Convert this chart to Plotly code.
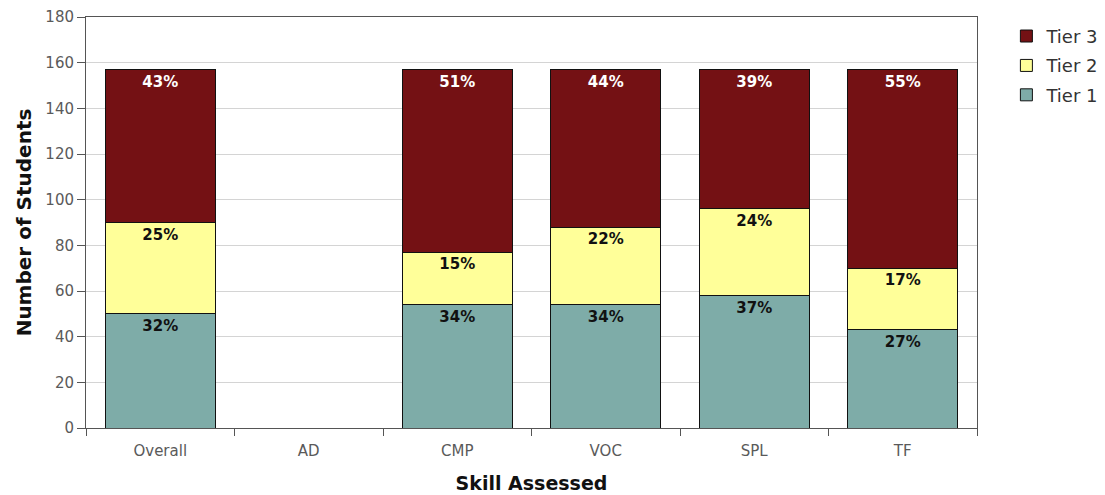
import plotly.graph_objects as go

categories = ["Overall", "AD", "CMP", "VOC", "SPL", "TF"]
tier1 = [50, None, 54, 54, 58, 43]
tier2 = [40, None, 23, 34, 38, 27]
tier3 = [67, None, 80, 69, 61, 87]
tier1_labels = ["32%", "", "34%", "34%", "37%", "27%"]
tier2_labels = ["25%", "", "15%", "22%", "24%", "17%"]
tier3_labels = ["43%", "", "51%", "44%", "39%", "55%"]
y_ticks = [0, 20, 40, 60, 80, 100, 120, 140, 160, 180]

FONT = "DejaVu Sans, Verdana, sans-serif"

fig = go.Figure()
series = [
    ("Tier 1", tier1, tier1_labels, "#7eaca8", "#111111", 3),
    ("Tier 2", tier2, tier2_labels, "#ffff99", "#111111", 2),
    ("Tier 3", tier3, tier3_labels, "#741114", "#ffffff", 1),
]
for name, vals, labels, color, tcolor, rank in series:
    fig.add_trace(go.Bar(
        name=name, x=categories, y=vals, text=labels, legendgroup=name,
        legendrank=rank,
        textposition="inside", insidetextanchor="end", textangle=0,
        constraintext="none",
        textfont=dict(family=FONT, size=15, color=tcolor, weight="bold"),
        marker=dict(color=color, line=dict(color="#111111", width=1)),
        hoverinfo="x+y+name",
    ))

# page body has an 8px default margin; figure sized to fit the 1105x495 window
fig.update_layout(
    barmode="stack",
    bargap=0.26,
    width=1097, height=487,
    margin=dict(l=78, r=128, t=9, b=67, autoexpand=False),
    plot_bgcolor="white", paper_bgcolor="white",
    font=dict(family=FONT, color="#555555"),
    legend=dict(
        x=1.033, y=0.998, xanchor="left", yanchor="top",
        traceorder="grouped",
        font=dict(family=FONT, size=18, color="#333333"),
        itemwidth=30, tracegroupgap=3,
    ),
    xaxis=dict(
        type="category", range=[-0.5, 5.5], automargin=False,
        showline=True, linecolor="#555555", linewidth=1, mirror=True,
        ticks="outside", tickson="boundaries", ticklen=7, tickcolor="#555555",
        ticklabelstandoff=9,
        tickfont=dict(family=FONT, size=15, color="#5a5a5a"),
        showgrid=False,
        title=dict(text="Skill Assessed", standoff=17,
                   font=dict(family=FONT, size=19, color="#111111", weight="bold")),
    ),
    yaxis=dict(
        range=[0, 180], tickvals=y_ticks, automargin=False,
        showline=True, linecolor="#555555", linewidth=1, mirror=True,
        ticks="outside", ticklen=8, tickcolor="#555555",
        tickfont=dict(family=FONT, size=15, color="#5a5a5a"),
        showgrid=True, gridcolor="#d4d4d4", gridwidth=1,
        zeroline=False,
        title=dict(text="Number of Students", standoff=8,
                   font=dict(family=FONT, size=20, color="#111111", weight="bold")),
    ),
)

fig.write_html("out.html")
